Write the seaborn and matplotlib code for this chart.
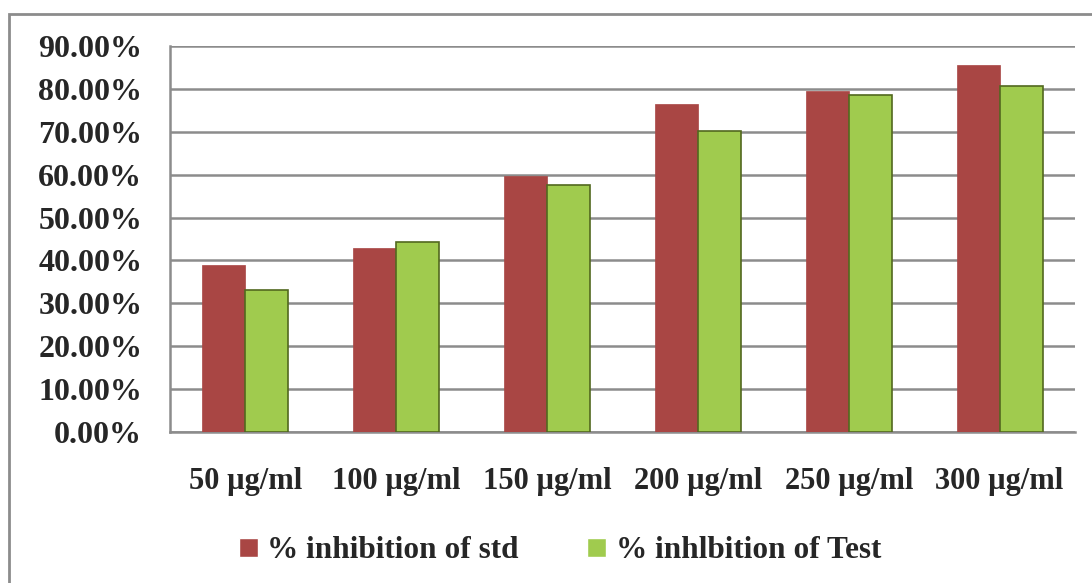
import seaborn as sns
import pandas as pd
import matplotlib.pyplot as plt
from matplotlib.patches import Rectangle
from matplotlib.ticker import FuncFormatter, MultipleLocator

doses = ["50 µg/ml", "100 µg/ml", "150 µg/ml", "200 µg/ml", "250 µg/ml", "300 µg/ml"]
std_vals = [0.390, 0.430, 0.596, 0.764, 0.796, 0.855]
test_vals = [0.330, 0.443, 0.575, 0.702, 0.785, 0.806]
series = ["% inhibition of std", "% inhlbition of Test"]

df = pd.DataFrame({
    "dose": doses * 2,
    "value": std_vals + test_vals,
    "series": [series[0]] * len(doses) + [series[1]] * len(doses),
})

sns.set_style("white")
plt.rcParams["font.family"] = ["Liberation Serif", "DejaVu Serif"]
plt.rcParams["font.weight"] = "bold"

fig = plt.figure(figsize=(10.92, 5.83), dpi=100)
ax = fig.add_axes([170 / 1092, 1 - 432 / 583, 905 / 1092, 386 / 583])

pal = {series[0]: "#A94644", series[1]: "#A0CB4E"}
sns.barplot(data=df, x="dose", y="value", hue="series", palette=pal,
            width=0.57, gap=0, saturation=1, ax=ax, zorder=3)

# bevelled look on the green bars: darker edge
for bar in ax.containers[1]:
    bar.set_edgecolor("#52681F")
    bar.set_linewidth(1.2)
for bar in ax.containers[0]:
    bar.set_edgecolor("#A94644")
    bar.set_linewidth(0.5)

ax.set_ylim(0, 0.9)
ax.set_xlim(-0.5, 5.5)
ax.yaxis.set_major_locator(MultipleLocator(0.1))
ax.yaxis.set_major_formatter(FuncFormatter(lambda v, p: "%.2f%%" % (v * 100)))
ax.grid(axis="y", color="#8C8C8C", linewidth=1.8, zorder=0)
ax.set_axisbelow(True)

ax.set_xticks([i - 0.5 for i in range(7)], minor=True)
ax.tick_params(axis="x", which="major", length=0, pad=25, labelsize=22)
ax.tick_params(axis="x", which="minor", length=9, width=1.5, color="#8C8C8C", direction="out")
ax.tick_params(axis="y", length=9, width=1.5, color="#8C8C8C", direction="out", labelsize=23, pad=11)
for lab in ax.get_xticklabels() + ax.get_yticklabels():
    lab.set_fontweight("bold")

for s in ["top", "right"]:
    ax.spines[s].set_visible(False)
for s in ["left", "bottom"]:
    ax.spines[s].set_color("#8C8C8C")
    ax.spines[s].set_linewidth(1.8)

ax.set_xlabel("")
ax.set_ylabel("")

ax.legend(loc="center", bbox_to_anchor=(560 / 1092, 1 - 551 / 583), bbox_transform=fig.transFigure,
          ncol=2, frameon=False, prop={"weight": "bold", "size": 22.5},
          handlelength=0.6, handleheight=0.6, handletextpad=0.3, columnspacing=2.2)

fig.patches.append(Rectangle((9 / 1092, -0.1), 1.2, 1 - 14 / 583 + 0.1, transform=fig.transFigure,
                             fill=False, edgecolor="#8C8C8C", linewidth=2))

fig.savefig("out.png", dpi=100)
